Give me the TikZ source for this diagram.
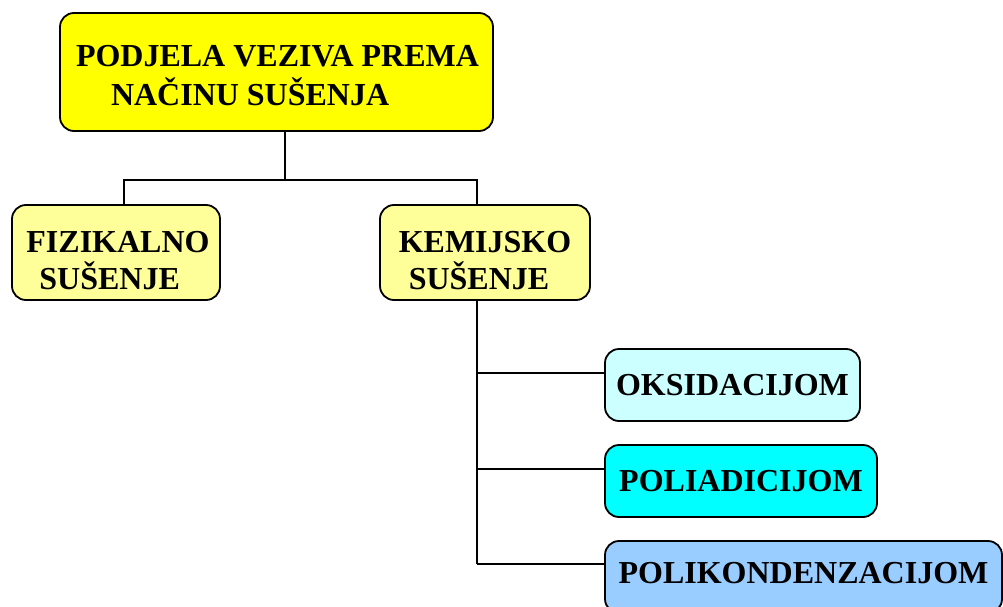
\documentclass[tikz,border=0pt]{standalone}
\usepackage{fontspec}
\setmainfont{Liberation Serif}
\definecolor{cYellow}{HTML}{FFFF00}
\definecolor{cLightYellow}{HTML}{FFFF99}
\definecolor{cPaleCyan}{HTML}{CCFFFF}
\definecolor{cCyan}{HTML}{00FFFF}
\definecolor{cSky}{HTML}{99CCFF}
\newcommand\twolines[4]{\raisebox{#1}[0pt][0pt]{\begin{tabular}[t]{@{}l@{}}#3\\\hspace*{#2}#4\end{tabular}}}
\tikzset{
  box/.style={draw=black, line width=1.8pt, rounded corners=14pt, inner sep=0pt,
    font=\bfseries\fontsize{32}{34}\selectfont},
  link/.style={draw=black, line width=1.8pt}
}
\begin{document}
\begin{tikzpicture}[x=1pt,y=-1pt]
\useasboundingbox (0,0) rectangle (1003,607);
\node[box, fill=cYellow, minimum width=433pt, minimum height=118pt,
  font=\bfseries\fontsize{32}{35}\selectfont] (top) at (276.5,72)
  {\hspace*{2pt}\twolines{5pt}{35pt}{PODJELA VEZIVA PREMA}{NAČINU SUŠENJA}};
\node[box, fill=cLightYellow, minimum width=208pt, minimum height=95pt] (fiz) at (116,252.5)
  {\hspace*{4pt}\twolines{0.5pt}{13pt}{FIZIKALNO}{SUŠENJE}};
\node[box, fill=cLightYellow, minimum width=210pt, minimum height=95pt] (kem) at (485,252.5)
  {\twolines{0.5pt}{10pt}{KEMIJSKO}{SUŠENJE}};
\node[box, fill=cPaleCyan, minimum width=255pt, minimum height=72pt] (oks) at (732.5,385)
  {OKSIDACIJOM};
\node[box, fill=cCyan, minimum width=272pt, minimum height=72pt] (pad) at (741,481)
  {POLIADICIJOM};
\node[box, fill=cSky, minimum width=397pt, minimum height=72pt] (pkd) at (803.5,577)
  {\raisebox{7.5pt}{POLIKONDENZACIJOM}};
\coordinate (hub) at (285,180);
\coordinate (fzj) at (124,180);
\coordinate (kmj) at (477,180);
\coordinate (j1) at (477,373);
\coordinate (j2) at (477,469);
\coordinate (j3) at (477,564);
\draw[link] (hub |- top.south) -- (hub);
\draw[link] (fzj |- fiz.north) -- (fzj) -- (kmj) -- (kmj |- kem.north);
\draw[link] (j3 |- kem.south) -- (j3);
\draw[link] (j1) -- (j1 -| oks.west);
\draw[link] (j2) -- (j2 -| pad.west);
\draw[link] (j3) -- (j3 -| pkd.west);
\end{tikzpicture}
\end{document}
